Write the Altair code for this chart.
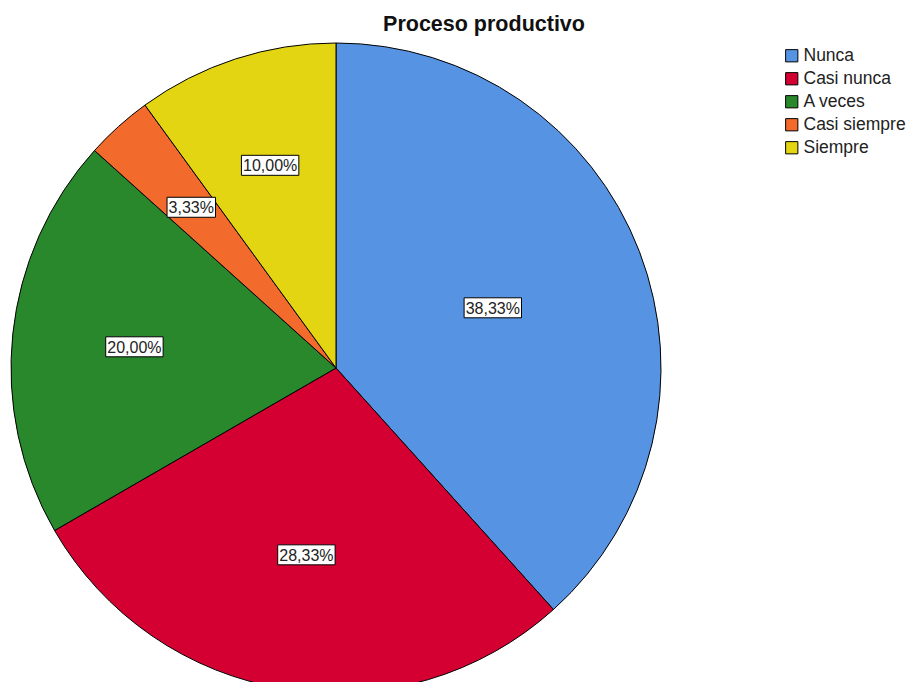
import altair as alt
import pandas as pd

categories = ["Nunca", "Casi nunca", "A veces", "Casi siempre", "Siempre"]
values = [38.33, 28.33, 20.00, 3.33, 10.00]
labels = ["38,33%", "28,33%", "20,00%", "3,33%", "10,00%"]
colors = ["#5694E3", "#D40032", "#2A882C", "#F26A2C", "#E3D512"]
title_text = "Proceso productivo"

df = pd.DataFrame({
    "idx": list(range(len(categories))),
    "cat": categories,
    "value": values,
    "label": labels,
})

W, H = 901, 674
CX, CY, R = 328, 360, 325
FONT = "Liberation Sans"

base = alt.Chart(df)

color = alt.Color(
    "cat:N",
    scale=alt.Scale(domain=categories, range=colors),
    sort=categories,
    legend=alt.Legend(
        title=None,
        orient="none",
        legendX=775,
        legendY=39,
        symbolType="square",
        symbolSize=150,
        symbolStrokeColor="black",
        symbolStrokeWidth=1,
        symbolOpacity=1,
        labelFont=FONT,
        labelFontSize=17.5,
        labelColor="#222222",
        labelOffset=3,
        rowPadding=4,
        labelLimit=200,
    ),
)

arcs = base.mark_arc(
    outerRadius=R, stroke="black", strokeWidth=1, x=CX, y=CY
).encode(
    theta=alt.Theta("value:Q", stack=True),
    color=color,
    order=alt.Order("idx:Q"),
)

pos = base.transform_joinaggregate(
    total="sum(value)"
).transform_window(
    cum="sum(value)", sort=[alt.SortField("idx")], frame=[None, 0]
).transform_calculate(
    mid="(datum.cum - datum.value/2)/datum.total*2*PI",
    half="datum.value/datum.total*PI",
).transform_calculate(
    r=f"2*{R}*sin(datum.half)/(3*datum.half)",
).transform_calculate(
    lx=f"{CX} + datum.r*sin(datum.mid)",
    ly=f"{CY} - datum.r*cos(datum.mid)",
    bw="length(datum.label)*8.9 + 4",
).transform_calculate(
    x1="datum.lx - datum.bw/2",
    x2="datum.lx + datum.bw/2",
    y1="datum.ly - 10",
    y2="datum.ly + 10",
)

boxes = pos.mark_rect(fill="white", stroke="black", strokeWidth=1).encode(
    x=alt.X("x1:Q", scale=None),
    x2="x2:Q",
    y=alt.Y("y1:Q", scale=None),
    y2="y2:Q",
)

texts = pos.mark_text(
    font=FONT, fontSize=16, color="#222222", align="center", baseline="middle", dy=1
).encode(
    x=alt.X("lx:Q", scale=None),
    y=alt.Y("ly:Q", scale=None),
    text="label:N",
)

title_df = pd.DataFrame({"t": [title_text]})
title = alt.Chart(title_df).mark_text(
    font=FONT, fontSize=21.5, fontWeight="bold", color="#111111",
    align="center", baseline="middle"
).encode(
    x=alt.value(476), y=alt.value(17), text="t:N"
)

chart = alt.layer(arcs, boxes, texts, title).properties(
    width=W, height=H, autosize=alt.AutoSizeParams(type="none"), padding=0
).configure_view(stroke=None)

chart.save("out.html", embed_options={"renderer": "svg", "actions": False})
